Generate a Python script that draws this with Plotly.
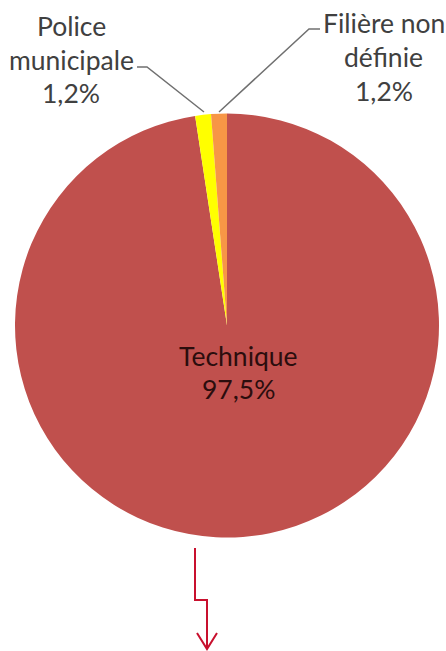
import plotly.graph_objects as go

W, H = 446, 651

categories = ["Technique", "Police municipale", "Filière non définie"]
values = [97.5, 1.2, 1.2]
label_lines = [["Technique"], ["Police", "municipale"], ["Filière non", "définie"]]
pct_texts = ["97,5%", "1,2%", "1,2%"]
colors = ["#C0504D", "#FFFF00", "#F79646"]


def px(x):
    return x / W


def py(y):
    return 1 - y / H


fig = go.Figure()
fig.add_trace(go.Pie(
    labels=categories,
    values=values,
    sort=False,
    direction="clockwise",
    rotation=0,
    marker=dict(colors=colors, line=dict(width=0)),
    textinfo="none",
    hoverinfo="label+percent",
    showlegend=False,
    domain=dict(x=[px(15), px(439)], y=[py(538), py(113)]),
))

FAM = "Lato, 'Open Sans', sans-serif"
label_pos = [
    (238, [356, 389], "#2b0d0d"),
    (71, [26, 59.5, 92.5], "#404040"),
    (383.5, [23, 56.5, 91], "#404040"),
]

annotations = []
for lines, pct, (cx, ys, col) in zip(label_lines, pct_texts, label_pos):
    for txt, yy in zip(lines + [pct], ys):
        annotations.append(dict(
            x=px(cx), y=py(yy), text=txt, xref="paper", yref="paper",
            showarrow=False, xanchor="center", yanchor="middle",
            font=dict(family=FAM, size=26.5, color=col),
        ))

leader = dict(color="#707070", width=1.5)
arrow_col = "#C8102E"


def path(points):
    return "M " + " L ".join(f"{px(x)},{py(y)}" for x, y in points)


shapes = [
    dict(type="path", xref="paper", yref="paper", line=leader,
         path=path([(137, 67), (147, 67), (204, 112)])),
    dict(type="path", xref="paper", yref="paper", line=leader,
         path=path([(320, 29), (309, 29), (219, 112)])),
    dict(type="path", xref="paper", yref="paper", line=dict(color=arrow_col, width=2),
         path=path([(195, 548), (195, 600), (207, 600), (207, 649)])),
    dict(type="path", xref="paper", yref="paper", line=dict(color=arrow_col, width=2),
         path=path([(197, 633), (207, 649), (217, 633)])),
]

fig.update_layout(
    width=W, height=H,
    margin=dict(l=0, r=0, t=0, b=0),
    paper_bgcolor="white",
    plot_bgcolor="white",
    annotations=annotations,
    shapes=shapes,
)

fig.write_html(
    "out.html",
    config={"displayModeBar": False},
    post_script="document.body.style.margin='0';document.body.style.overflow='hidden';",
)
